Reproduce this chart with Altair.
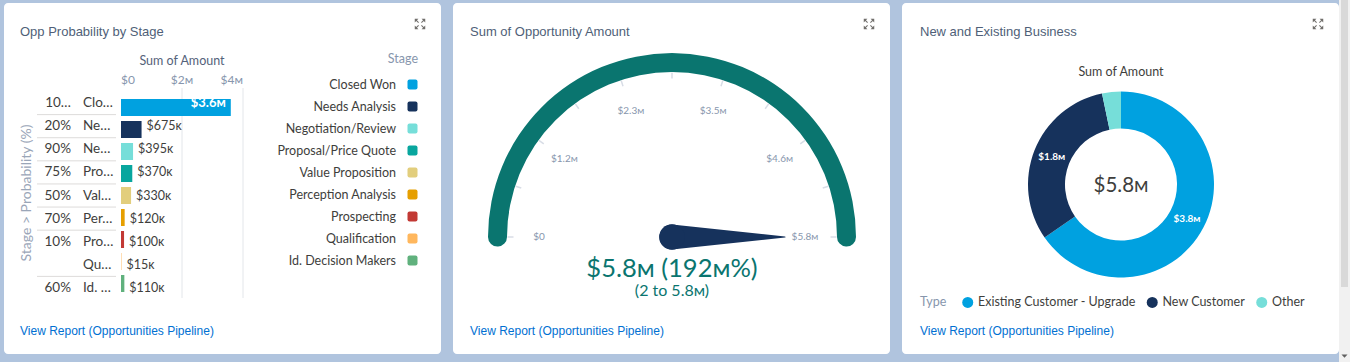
import math
import altair as alt
import pandas as pd

# ---------------- data ----------------
stage_names = ["Closed Won", "Needs Analysis", "Negotiation/Review", "Proposal/Price Quote",
               "Value Proposition", "Perception Analysis", "Prospecting", "Qualification",
               "Id. Decision Makers"]
stage_short = ["Clo…", "Ne…", "Ne…", "Pro…", "Val…", "Per…", "Pro…", "Qu…", "Id. …"]
probability_labels = ["10…", "20%", "90%", "75%", "50%", "70%", "10%", "", "60%"]
probability_group = [100, 20, 90, 75, 50, 70, 10, 10, 60]
stage_amounts = [3600000, 675000, 395000, 370000, 330000, 120000, 100000, 15000, 110000]
stage_amount_labels = ["$3.6ᴍ", "$675ᴋ", "$395ᴋ", "$370ᴋ", "$330ᴋ", "$120ᴋ", "$100ᴋ", "$15ᴋ", "$110ᴋ"]
stage_colors = ["#00a1e0", "#16325c", "#76ded9", "#08a69e", "#e2ce7d", "#e69f00",
                "#c23934", "#ffb75d", "#60b17d"]
bar_axis_values = [0, 2000000, 4000000]
bar_axis_labels = ["$0", "$2ᴍ", "$4ᴍ"]

gauge_value = 5800000
gauge_min = 0
gauge_max = 5800000
gauge_tick_values = [0, 580000, 1160000, 1740000, 2320000, 2900000, 3480000,
                     4060000, 4640000, 5220000, 5800000]
gauge_label_values = [0, 1160000, 2320000, 3480000, 4640000, 5800000]
gauge_label_texts = ["$0", "$1.2ᴍ", "$2.3ᴍ", "$3.5ᴍ", "$4.6ᴍ", "$5.8ᴍ"]
gauge_main_text = "$5.8ᴍ (192ᴍ%)"
gauge_range_text = "(2 to 5.8ᴍ)"

business_types = ["Existing Customer - Upgrade", "New Customer", "Other"]
business_amounts = [3790000, 1820000, 190000]
business_labels = ["$3.8ᴍ", "$1.8ᴍ", ""]
business_colors = ["#00a1e0", "#16325c", "#76ded9"]
business_total_text = "$5.8ᴍ"

# ---------------- styles ----------------
W, H = 437, 351
TITLE_FONT = "Liberation Sans, Arial, sans-serif"
FONT = "Lato, Noto Sans, DejaVu Sans, sans-serif"
DARK = "#3e3e3c"
TITLE_C = "#4f5f78"
SOFT = "#8796ad"
TEAL = "#0a756f"
NAVY = "#16325c"
LINK = "#0070d2"

EXPAND_PATH = ("M-1,-1L-0.3,-1L-1,-0.3Z M-0.72,-0.58L-0.58,-0.72L-0.2,-0.34L-0.34,-0.2Z "
               "M1,-1L0.3,-1L1,-0.3Z M0.72,-0.58L0.58,-0.72L0.2,-0.34L0.34,-0.2Z "
               "M-1,1L-0.3,1L-1,0.3Z M-0.72,0.58L-0.58,0.72L-0.2,0.34L-0.34,0.2Z "
               "M1,1L0.3,1L1,0.3Z M0.72,0.58L0.58,0.72L0.2,0.34L0.34,0.2Z")
ROUND_SQ = "M-0.6,-1L0.6,-1Q1,-1 1,-0.6L1,0.6Q1,1 0.6,1L-0.6,1Q-1,1 -1,0.6L-1,-0.6Q-1,-1 -0.6,-1Z"
DOWN_ARROW = "M-1,-0.5L1,-0.5L0,0.6Z"

ONE = pd.DataFrame({"k": [0]})


def const_text(text, x, y, **kw):
    return alt.Chart(ONE).mark_text(text=text, **kw).encode(x=alt.value(x), y=alt.value(y))


def card_frame(title, tx=16):
    t = const_text(title, tx, 29, align="left", baseline="middle", font=TITLE_FONT,
                   fontSize=13, color=TITLE_C)
    link = const_text("View Report (Opportunities Pipeline)", tx, 328, align="left",
                      baseline="middle", font=TITLE_FONT, fontSize=12, color=LINK)
    icon = alt.Chart(ONE).mark_point(shape=EXPAND_PATH, size=110, filled=True, opacity=1,
                                     color="#706e6b", strokeWidth=0).encode(
        x=alt.value(416), y=alt.value(21))
    return [t, link, icon]


# ---------------- left card: bar chart ----------------
stage_df = pd.DataFrame({
    "stage": stage_names, "short": stage_short, "prob": probability_labels,
    "group": probability_group, "amount": stage_amounts, "label": stage_amount_labels,
})
stage_df["row"] = range(len(stage_df))
stage_df["new_group"] = stage_df["group"].ne(stage_df["group"].shift()) & (stage_df["row"] > 0)

axis_df = pd.DataFrame({"v": bar_axis_values, "lab": bar_axis_labels})
axis_df["i"] = range(len(axis_df))
n_ax = len(axis_df)

BAR_X = alt.Scale(domain=[0, 4000000], range=[117, 239], nice=False, zero=False)
ROW_Y = alt.Scale(domain=[0, len(stage_names)], range=[88.5, 296.5], nice=False, zero=False)
LEG_Y = alt.Scale(domain=[0, len(stage_names) - 1], range=[81.5, 257.5], nice=False, zero=False)
STAGE_COLOR = alt.Scale(domain=stage_names, range=stage_colors)

base_rows = alt.Chart(stage_df).transform_calculate(yc="datum.row + 0.5")
yc = alt.Y("yc:Q", scale=ROW_Y, axis=None)

grid = alt.Chart(axis_df).transform_filter("datum.v > 0").mark_rule(
    color="#e3e6ea", strokeWidth=1).encode(
    x=alt.X("v:Q", scale=BAR_X, axis=None), y=alt.value(85), y2=alt.value(295))

bars = base_rows.mark_bar(orient="horizontal", height=17).encode(
    x=alt.X("amount:Q", scale=BAR_X, axis=None),
    x2=alt.X2(datum=0),
    y=yc,
    color=alt.Color("stage:N", scale=STAGE_COLOR, legend=None),
)
seps = alt.Chart(stage_df).transform_filter("datum.new_group").mark_rule(
    color="#dddbda", strokeWidth=1).encode(
    x=alt.value(33), x2=alt.value(112), y=alt.Y("row:Q", scale=ROW_Y, axis=None))

prob_txt = base_rows.mark_text(align="right", baseline="middle", font=FONT, fontSize=13.5,
                               color=DARK).encode(x=alt.value(67), y=yc, text="prob:N")
short_txt = base_rows.mark_text(align="left", baseline="middle", font=FONT, fontSize=13.5,
                                color=DARK).encode(x=alt.value(79), y=yc, text="short:N")
lab_in = base_rows.transform_filter("datum.amount >= 1000000").mark_text(
    align="right", baseline="middle", dx=-5, font=FONT, fontSize=13, fontWeight="bold",
    color="white").encode(x=alt.X("amount:Q", scale=BAR_X, axis=None), y=yc, text="label:N")
lab_out = base_rows.transform_filter("datum.amount < 1000000").mark_text(
    align="left", baseline="middle", dx=5, font=FONT, fontSize=12.5,
    color=DARK).encode(x=alt.X("amount:Q", scale=BAR_X, axis=None), y=yc, text="label:N")

ax_layers = []
for cond, al in [("datum.i == 0", "left"), (f"datum.i > 0 && datum.i < {n_ax - 1}", "center"),
                 (f"datum.i == {n_ax - 1}", "right")]:
    ax_layers.append(alt.Chart(axis_df).transform_filter(cond).mark_text(
        align=al, baseline="middle", font=FONT, fontSize=12, color=SOFT).encode(
        x=alt.X("v:Q", scale=BAR_X, axis=None), y=alt.value(77), text="lab:N"))

x_title = const_text("Sum of Amount", 178, 58, align="center", baseline="middle", font=FONT,
                     fontSize=12.5, color="#54627a")
y_title = const_text("Stage > Probability (%)", 23, 190, align="center", baseline="middle",
                     font=FONT, fontSize=14, color="#9aa6b8", angle=270)

leg_title = const_text("Stage", 414, 56, align="right", baseline="middle", font=FONT,
                       fontSize=12.5, color=SOFT)
leg_labels = alt.Chart(stage_df).mark_text(align="right", baseline="middle", font=FONT,
                                           fontSize=12.5, color=DARK).encode(
    x=alt.value(392), y=alt.Y("row:Q", scale=LEG_Y, axis=None), text="stage:N")
leg_sw = alt.Chart(stage_df).mark_point(shape=ROUND_SQ, size=100, filled=True, opacity=1,
                                        strokeWidth=0).encode(
    x=alt.value(408.5), y=alt.Y("row:Q", scale=LEG_Y, axis=None),
    color=alt.Color("stage:N", scale=STAGE_COLOR, legend=None))

left = alt.layer(
    *card_frame("Opp Probability by Stage"),
    grid, bars, seps, prob_txt, short_txt, lab_in, lab_out, *ax_layers,
    x_title, y_title, leg_title, leg_labels, leg_sw,
).properties(width=W, height=H).resolve_scale(x="independent", y="independent",
                                              color="independent")

# ---------------- middle card: gauge ----------------
CX, CY = 219, 234
ANG = f"PI * (datum.v - {gauge_min}) / ({gauge_max} - {gauge_min})"

band_df = pd.DataFrame({"start": [gauge_min], "end": [gauge_value]})
cap = 0.055
gauge_band = alt.Chart(band_df).mark_arc(radius=184, radius2=165, cornerRadius=9.5,
                                         color=TEAL).encode(
    theta=alt.Theta("start:Q", scale=alt.Scale(domain=[gauge_min, gauge_max],
                                                range=[-math.pi / 2 - cap, math.pi / 2 + cap],
                                                nice=False, zero=False)),
    theta2="end:Q",
    x=alt.value(CX), y=alt.value(CY),
)

tick_df = pd.DataFrame({"v": gauge_tick_values})
gauge_ticks = alt.Chart(tick_df).transform_calculate(a=ANG).transform_calculate(
    x1=f"{CX} - 164.5 * cos(datum.a)", y1=f"{CY} - 164.5 * sin(datum.a)",
    x2=f"{CX} - 158.5 * cos(datum.a)", y2=f"{CY} - 158.5 * sin(datum.a)",
).mark_rule(color="#d8dde6", strokeWidth=1.5).encode(
    x=alt.X("x1:Q", scale=None), y=alt.Y("y1:Q", scale=None),
    x2=alt.X2("x2:Q"), y2=alt.Y2("y2:Q"))

glab_df = pd.DataFrame({"v": gauge_label_values, "t": gauge_label_texts})
gauge_labels = alt.Chart(glab_df).transform_calculate(a=ANG).transform_calculate(
    lx=f"{CX} - 133 * cos(datum.a)", ly=f"{CY} - 133 * sin(datum.a)",
).mark_text(align="center", baseline="middle", font=FONT, fontSize=10, color=SOFT).encode(
    x=alt.X("lx:Q", scale=None), y=alt.Y("ly:Q", scale=None), text="t:N")

needle_df = pd.DataFrame({"v": [gauge_value, gauge_value], "part": [0, 1]})
needle = alt.Chart(needle_df).transform_calculate(a=ANG).transform_calculate(
    nx=f"{CX} - datum.part * 113 * cos(datum.a)",
    ny=f"{CY} - datum.part * 113 * sin(datum.a)",
    w="25 * (1 - datum.part)",
).mark_trail(color=NAVY).encode(
    x=alt.X("nx:Q", scale=None), y=alt.Y("ny:Q", scale=None),
    size=alt.Size("w:Q", scale=None), order="part:Q")
hub = alt.Chart(ONE).mark_circle(size=660, color=NAVY, opacity=1).encode(
    x=alt.value(CX), y=alt.value(CY))

main_txt = const_text(gauge_main_text, CX, 266, align="center", baseline="middle",
                      font=FONT, fontSize=25.5, color=TEAL)
range_txt = const_text(gauge_range_text, CX, 288, align="center", baseline="middle",
                       font=FONT, fontSize=16, color=TEAL)

middle = alt.layer(
    *card_frame("Sum of Opportunity Amount", tx=17),
    gauge_band, gauge_ticks, gauge_labels, needle, hub, main_txt, range_txt,
).properties(width=W, height=H).resolve_scale(x="independent", y="independent",
                                              size="independent")

# ---------------- right card: donut ----------------
DX, DY = 219, 181.5
biz_df = pd.DataFrame({"type": business_types, "amount": business_amounts,
                       "label": business_labels})
biz_df["idx"] = range(len(biz_df))

BIZ_COLOR = alt.Scale(domain=business_types, range=business_colors)
donut = alt.Chart(biz_df).mark_arc(radius=93, radius2=56).encode(
    theta=alt.Theta("amount:Q", stack=True),
    order=alt.Order("idx:Q"),
    color=alt.Color("type:N", scale=BIZ_COLOR, legend=alt.Legend(
        orient="none", legendX=18, legendY=293, direction="horizontal",
        title="Type", titleOrient="left", titleFont=FONT, titleFontSize=12.5,
        titleFontWeight="normal", titleColor=SOFT, titlePadding=14.5,
        labelFont=FONT, labelFontSize=12.5, labelColor=DARK, labelOffset=4,
        symbolType="circle", symbolSize=121, symbolStrokeWidth=0, columnPadding=9.5,
    )),
    x=alt.value(DX), y=alt.value(DY),
)
donut_labels = alt.Chart(biz_df).mark_text(radius=74.5, font=FONT, fontSize=10,
                                           fontWeight="bold", color="white").encode(
    theta=alt.Theta("amount:Q", stack=True),
    order=alt.Order("idx:Q"),
    text="label:N",
    x=alt.value(DX), y=alt.value(DY),
)
donut_title = const_text("Sum of Amount", DX, 69, align="center", baseline="middle",
                         font=FONT, fontSize=12.5, color=DARK)
donut_total = const_text(business_total_text, DX, 183, align="center", baseline="middle",
                         font=FONT, fontSize=20.5, color=DARK)

right = alt.layer(
    *card_frame("New and Existing Business", tx=18),
    donut, donut_labels, donut_title, donut_total,
).properties(width=W, height=H)

# ---------------- page scrollbar (browser chrome look) ----------------
track = alt.Chart(ONE).mark_rect(color="#f1f1f1").encode(
    x=alt.value(0), x2=alt.value(11), y=alt.value(-3), y2=alt.value(359))
thumb = alt.Chart(ONE).mark_rect(color="#d9d9d9").encode(
    x=alt.value(2), x2=alt.value(9), y=alt.value(-3), y2=alt.value(284))
arrow = alt.Chart(ONE).mark_point(shape=DOWN_ARROW, size=36, filled=True, opacity=1,
                                  color="#606060", strokeWidth=0).encode(
    x=alt.value(5.5), y=alt.value(353))
scroll = alt.layer(track, thumb, arrow).properties(
    width=11, height=H, view=alt.ViewBackground(fill="#f1f1f1", cornerRadius=0, stroke=None))

cards = alt.hconcat(left, middle, right, spacing=12).resolve_scale(
    x="independent", y="independent", color="independent", theta="independent",
    size="independent",
)
chart = alt.hconcat(cards, scroll, spacing=0).resolve_scale(
    x="independent", y="independent", color="independent", theta="independent",
    size="independent",
).properties(
    padding={"left": 4, "top": 0, "right": 0, "bottom": 0},
    background="#b0c4de",
).configure_view(fill="white", stroke=None, cornerRadius=4)

chart.save("out.html", embed_options={"renderer": "svg", "actions": False})
